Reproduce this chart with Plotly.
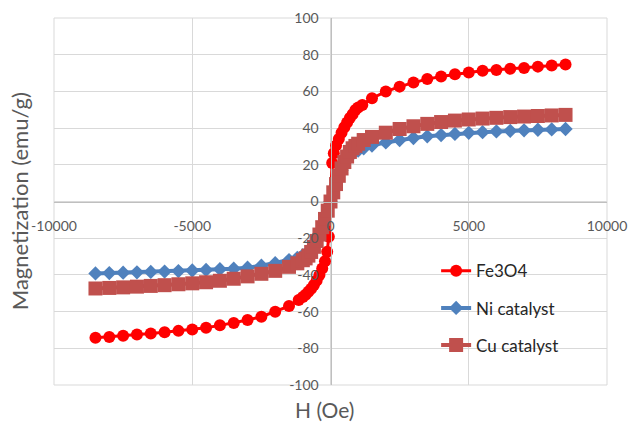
import plotly.graph_objects as go

# ---- data ----
fe_h = [-8500, -8000, -7500, -7000, -6500, -6000, -5500, -5000, -4500, -4000, -3500, -3000, -2500, -2000, -1500,
        -1150, -1000, -900, -800, -700, -600, -500, -400, -300, -200, -120, -60, 0,
        60, 120, 200, 300, 400, 500, 600, 700, 800, 900, 1000, 1150,
        1500, 2000, 2500, 3000, 3500, 4000, 4500, 5000, 5500, 6000, 6500, 7000, 7500, 8000, 8500]
fe_m = [-74.3, -73.8, -73.2, -72.5, -71.9, -71.2, -70.5, -69.7, -68.8, -67.5, -66.2, -64.6, -62.8, -60.1, -57.0,
        -53.7, -52.0, -50.8, -49.2, -47.5, -45.5, -43.0, -40.0, -36.5, -32.5, -27.4, -19.2, 0,
        21.0, 26.3, 30.5, 34.0, 37.5, 40.5, 43.0, 45.5, 47.5, 49.9, 51.2, 52.6,
        56.3, 59.9, 62.6, 64.8, 66.7, 68.1, 69.4, 70.3, 71.2, 71.7, 72.3, 72.8, 73.5, 74.1, 74.6]

ni_h = [-8500, -8000, -7500, -7000, -6500, -6000, -5500, -5000, -4500, -4000, -3500, -3000, -2500, -2000, -1500,
        -1200, -1000, -800, -600, -400, -200, 0, 200, 400, 600, 800, 1000, 1200,
        1500, 2000, 2500, 3000, 3500, 4000, 4500, 5000, 5500, 6000, 6500, 7000, 7500, 8000, 8500]
ni_m = [-39.2, -39.0, -38.8, -38.6, -38.4, -38.2, -37.9, -37.6, -37.3, -36.9, -36.6, -36.1, -35.0, -33.6, -31.9,
        -30.7, -29.3, -27.3, -24.0, -17.5, -9.0, 0, 9.0, 17.0, 23.0, 26.0, 27.8, 29.0,
        30.5, 32.2, 33.5, 34.6, 35.5, 36.2, 36.8, 37.4, 37.8, 38.2, 38.5, 38.8, 39.1, 39.3, 39.5]

cu_h = [-8500, -8000, -7500, -7000, -6500, -6000, -5500, -5000, -4500, -4000, -3500, -3000, -2500, -2000, -1500,
        -1200, -1000, -900, -800, -700, -600, -500, -400, -300, -200, -100, 0,
        100, 200, 300, 400, 500, 600, 700, 800, 900, 1000, 1200,
        1500, 2000, 2500, 3000, 3500, 4000, 4500, 5000, 5500, 6000, 6500, 7000, 7500, 8000, 8500]
cu_m = [-47.4, -47.1, -46.8, -46.4, -46.0, -45.6, -45.1, -44.6, -44.0, -43.2, -42.1, -40.8, -39.4, -37.8, -35.6,
        -33.7, -32.0, -31.0, -29.5, -27.5, -24.7, -21.5, -18.0, -14.0, -9.5, -5.0, 0,
        5.0, 9.5, 14.0, 18.0, 21.5, 24.5, 27.0, 29.0, 30.3, 31.5, 33.5,
        35.2, 37.5, 39.5, 41.0, 42.3, 43.3, 44.1, 44.7, 45.2, 45.6, 46.0, 46.3, 46.6, 46.9, 47.2]

x_tickvals = [-10000, -5000, 0, 5000, 10000]
x_ticktext = ["-10000", "-5000", "0", "5000", "10000"]
y_tickvals = [-100, -80, -60, -40, -20, 0, 20, 40, 60, 80, 100]
y_ticktext = ["-100", "-80", "-60", "-40", "-20", "0", "20", "40", "60", "80", "100"]

series_names = ["Fe3O4", "Ni catalyst", "Cu catalyst"]
x_title = "H (Oe)"
y_title = "Magnetization (emu/g)"

FONT = "Lato"
GRAY = "#595959"

fig = go.Figure()
fig.add_trace(go.Scatter(x=fe_h, y=fe_m, name=series_names[0], mode="lines+markers",
                         line=dict(color="#FF0000", width=3),
                         marker=dict(symbol="circle", size=12, color="#FF0000"),
                         legendgroup="a"))
fig.add_trace(go.Scatter(x=ni_h, y=ni_m, name=series_names[1], mode="lines+markers",
                         line=dict(color="#4F81BD", width=4),
                         marker=dict(symbol="diamond", size=11, color="#4F81BD"),
                         legendgroup="b"))
fig.add_trace(go.Scatter(x=cu_h, y=cu_m, name=series_names[2], mode="lines+markers",
                         line=dict(color="#C0504D", width=4),
                         marker=dict(symbol="square", size=14, color="#C0504D"),
                         legendgroup="c"))

fig.update_xaxes(range=[-10000, 10000], tickmode="array", tickvals=x_tickvals, ticktext=x_ticktext,
                 showgrid=True, gridcolor="#D9D9D9", gridwidth=1, automargin=False,
                 zeroline=False, anchor="free", position=0.5, showline=True, linecolor="#BFBFBF", linewidth=1,
                 ticks="outside", ticklen=12, tickcolor="rgba(0,0,0,0)", ticklabeloverflow="allow",
                 tickfont=dict(family=FONT, size=14, color=GRAY))
fig.update_yaxes(range=[-100, 100], tickmode="array", tickvals=y_tickvals, ticktext=y_ticktext,
                 showgrid=True, gridcolor="#D9D9D9", gridwidth=1, automargin=False,
                 zeroline=False, anchor="free", position=0.5, showline=True, linecolor="#BFBFBF", linewidth=1,
                 ticks="outside", ticklen=9, tickcolor="rgba(0,0,0,0)", ticklabeloverflow="allow",
                 tickfont=dict(family=FONT, size=14, color=GRAY))

fig.add_shape(type="rect", xref="paper", yref="paper", x0=0, y0=0, x1=1, y1=1,
              line=dict(color="#D9D9D9", width=1), layer="below")

fig.add_annotation(text=y_title, xref="paper", yref="paper", x=-0.062, y=0.5, xanchor="center", yanchor="middle",
                   textangle=-90, showarrow=False, font=dict(family=FONT, size=22, color=GRAY))
fig.add_annotation(text=x_title, xref="paper", yref="paper", x=0.49, y=-0.067, xanchor="center", yanchor="middle",
                   showarrow=False, font=dict(family=FONT, size=21, color=GRAY))

fig.update_layout(
    width=628, height=423,
    margin=dict(l=54, r=21, t=18, b=38, autoexpand=False),
    paper_bgcolor="white", plot_bgcolor="white",
    showlegend=True,
    legend=dict(x=0.691, y=0.359, xanchor="left", yanchor="top", bgcolor="rgba(0,0,0,0)",
                font=dict(family=FONT, size=17, color="#262626"),
                traceorder="grouped", tracegroupgap=12),
)

# remove the browser's default 8px body margin so the figure fills the window
fig.write_html("out.html", config={"displayModeBar": False},
               post_script="document.body.style.margin='0';document.body.style.overflow='hidden';")
